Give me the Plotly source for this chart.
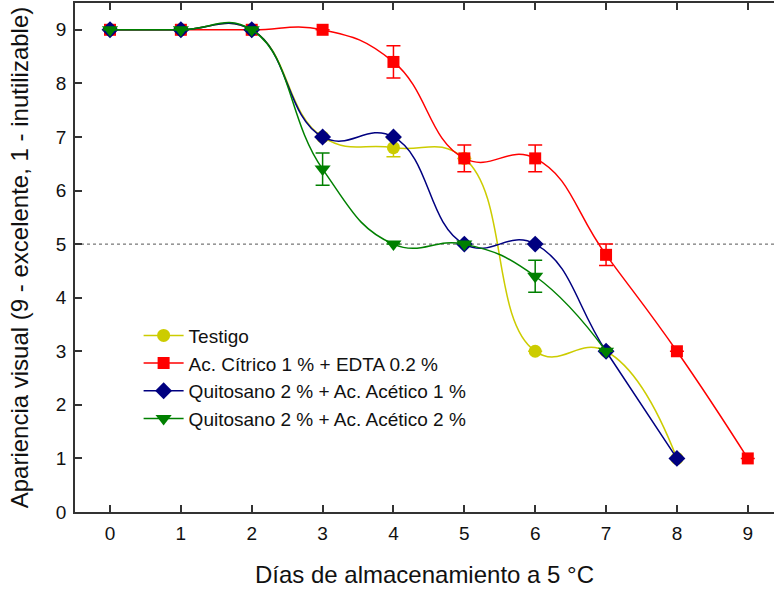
import plotly.graph_objects as go

dias = [0, 1, 2, 3, 4, 5, 6, 7, 8, 9]

testigo = [9, 9, 9, 7, 6.8, 6.6, 3, 3, 1]
testigo_err = [0, 0, 0, 0, 0.17, 0, 0, 0, 0]

citrico = [9, 9, 9, 9, 8.4, 6.6, 6.6, 4.8, 3, 1]
citrico_err = [0, 0, 0, 0, 0.3, 0.25, 0.25, 0.2, 0, 0]

quito1 = [9, 9, 9, 7, 7, 5, 5, 3, 1]
quito1_err = [0, 0, 0, 0, 0, 0, 0, 0, 0]

quito2 = [9, 9, 9, 6.4, 5, 5, 4.4, 3]
quito2_err = [0, 0, 0, 0.3, 0, 0, 0.3, 0]

umbral = 5

names = ["Testigo", "Ac. Cítrico 1 % + EDTA 0.2 %",
         "Quitosano 2 % + Ac. Acético 1 %", "Quitosano 2 % + Ac. Acético 2 %"]
colors = ["#CCCC00", "#FF0000", "#000080", "#008000"]
symbols = ["circle", "square", "diamond", "triangle-down"]
sizes = [13, 12, 13, 14]
series = [testigo, citrico, quito1, quito2]
errs = [testigo_err, citrico_err, quito1_err, quito2_err]

FONT = "Liberation Sans, Arial, sans-serif"

fig = go.Figure()
for n, c, s, sz, y, e in zip(names, colors, symbols, sizes, series, errs):
    fig.add_trace(go.Scatter(
        x=dias[:len(y)], y=y, name=n, mode="lines+markers",
        line=dict(color=c, width=1.5, shape="spline", smoothing=1.3),
        marker=dict(symbol=s, size=sz, color=c, line=dict(width=0)),
        error_y=dict(type="data", array=e, visible=True, color=c,
                     thickness=1.5, width=7),
    ))

fig.add_shape(type="line", xref="paper", x0=0, x1=1, yref="y", y0=umbral, y1=umbral,
              line=dict(color="#555555", width=1, dash="dot"), layer="below")

axis_common = dict(showline=True, linecolor="#333333", linewidth=1.5,
                   ticks="inside", tickcolor="#333333", tickwidth=1.5, ticklen=7,
                   showgrid=False, zeroline=False, ticklabelstandoff=3,
                   tickfont=dict(family=FONT, size=19, color="#111111"))

fig.update_layout(
    width=774, height=590,
    margin=dict(l=75, r=0, t=3, b=78),
    paper_bgcolor="white", plot_bgcolor="white",
    font=dict(family=FONT, color="#111111"),
    xaxis=dict(range=[-0.494, 9.37], tickmode="array", tickvals=dias,
               mirror="ticks",
               title=dict(text="Días de almacenamiento a 5 °C",
                          font=dict(size=24), standoff=24),
               **axis_common),
    yaxis=dict(range=[0, 9.5], tickmode="array", tickvals=list(range(0, 10)),
               title=dict(text="Apariencia visual (9 - excelente, 1 - inutilizable)",
                          font=dict(size=24), standoff=20),
               **axis_common),
    legend=dict(x=0.091, y=0.384, xanchor="left", yanchor="top",
                bgcolor="rgba(0,0,0,0)", borderwidth=0,
                font=dict(size=19), tracegroupgap=0, itemwidth=40),
    showlegend=True,
)

fig.write_html("out.html")
